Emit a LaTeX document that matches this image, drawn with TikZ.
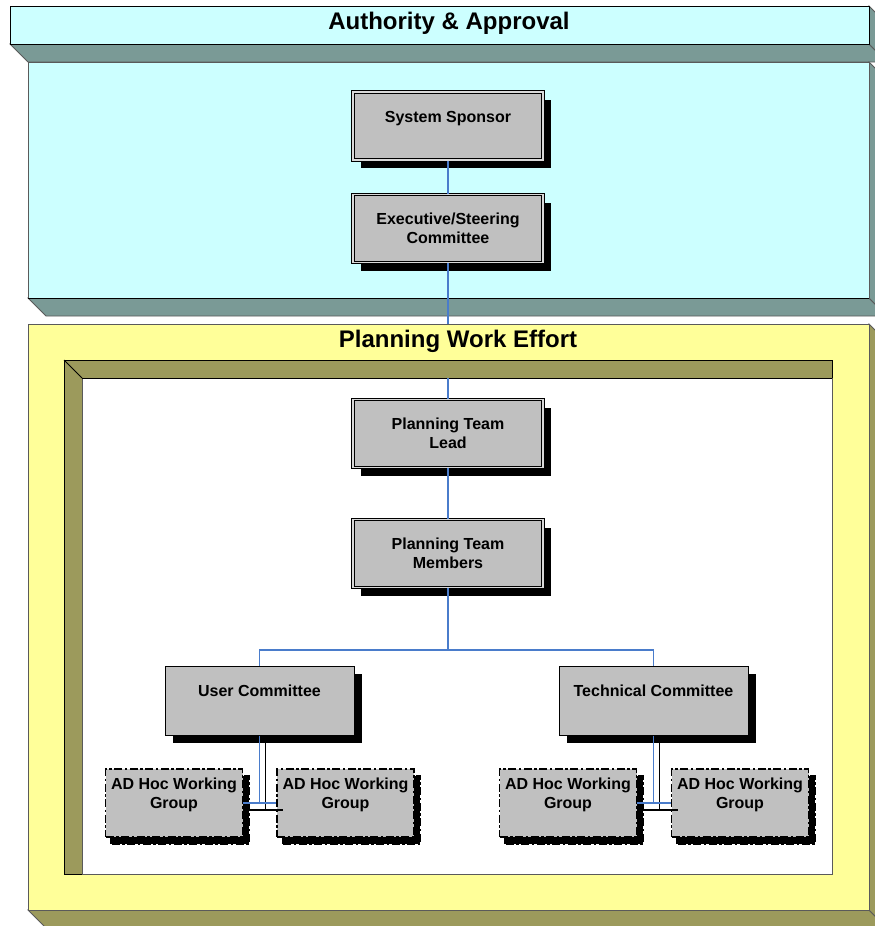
\documentclass[tikz,border=0pt]{standalone}
\usepackage{fontspec}
\setmainfont{Liberation Sans}
\usetikzlibrary{shadows}
\definecolor{aqua}{HTML}{CCFFFF}
\definecolor{aquadark}{HTML}{7A9A96}
\definecolor{paleyel}{HTML}{FFFF99}
\definecolor{olivewall}{HTML}{9C9A5C}
\definecolor{boxgray}{HTML}{C0C0C0}
\definecolor{linkblue}{HTML}{4A7CCB}
\definecolor{edgegray}{HTML}{5A5A5A}

\begin{document}
\begin{tikzpicture}[
    x=1pt, y=-1pt,
    line width=0.8pt,
    every node/.style={font=\bfseries\fontsize{16}{19}\selectfont},
    panelline/.style={draw=edgegray, line width=0.8pt},
    title/.style={font=\bfseries\fontsize{24}{28}\selectfont},
    role/.style={draw=black, double=boxgray!60!white, double distance=1.4pt,
      line width=1pt, fill=boxgray, minimum width=190pt, minimum height=68pt,
      align=center, inner sep=2pt,
      drop shadow={shadow xshift=8pt, shadow yshift=-8pt, fill=black, opacity=1}},
    committee/.style={draw=black, line width=1pt, fill=boxgray,
      minimum width=189pt, minimum height=69pt, align=center, inner sep=2pt,
      drop shadow={shadow xshift=8pt, shadow yshift=-8pt, fill=black, opacity=1}},
    adhoc/.style={draw=black, line width=1.5pt, fill=boxgray,
      dash pattern=on 8pt off 2.5pt on 2.5pt off 2.5pt,
      minimum width=137pt, minimum height=68pt, align=center, inner sep=2pt,
      drop shadow={shadow xshift=6pt, shadow yshift=-7pt, fill=black, draw=black,
        line width=2.5pt, dash pattern=on 8pt off 2.5pt on 2.5pt off 2.5pt, opacity=1}},
    link/.style={draw=linkblue, line width=1.3pt},
    linkshade/.style={draw=black, line width=1.2pt},
  ]
  \useasboundingbox (0,0) rectangle (875,926);
  \clip (0,0) rectangle (875,926);

  % ---------- Authority panel (cyan, 3D slab) ----------------------------
  % header bar: front (10,6)-(869,44), depth 18 down-right
  \filldraw[panelline, fill=aquadark] (10,44) -- (869,44) -- (887,62) -- (28,62) -- cycle;
  \filldraw[panelline, fill=aquadark] (869,6) -- (887,24) -- (887,62) -- (869,44) -- cycle;
  \filldraw[draw=black, line width=0.9pt, fill=aqua] (10,6) rectangle (869,44);
  \node[title] (authtitle) at (449,23) {Authority \& Approval};

  % body: front (28,62)-(869,298)
  \filldraw[panelline, fill=aquadark] (28,298) -- (869,298) -- (887,316) -- (46,316) -- cycle;
  \filldraw[panelline, fill=aquadark] (869,62) -- (887,80) -- (887,316) -- (869,298) -- cycle;
  \filldraw[panelline, fill=aqua] (28,62) rectangle (869,298);
  \draw[black] (28,298) -- (869,298);

  % ---------- Planning panel (yellow, 3D slab with recess) ---------------
  \filldraw[panelline, fill=olivewall] (28,910) -- (869,910) -- (887,928) -- (46,928) -- cycle;
  \filldraw[panelline, fill=olivewall] (869,324) -- (887,342) -- (887,928) -- (869,910) -- cycle;
  \filldraw[panelline, fill=paleyel] (28,324) rectangle (869,910);
  \node[title] (plantitle) at (458,341) {Planning Work Effort};

  % recess: olive walls top/left, white floor
  \filldraw[draw=black, line width=0.9pt, fill=olivewall] (64,360) rectangle (832,874);
  \filldraw[draw=edgegray, line width=0.8pt, fill=white] (82,378) rectangle (832,874);
  \draw[black] (64,360) -- (82,378);
  \draw[black] (82,378) -- (832,378);

  % ---------- Roles ------------------------------------------------------
  \node[role] (sponsor) at (448,126) {System Sponsor\\~};
  \node[role] (steering) at (448,228.5) {Executive/Steering\\Committee};
  \node[role] (lead) at (448,433.5) {Planning Team\\Lead};
  \node[role] (members) at (448,553.5) {Planning Team\\Members};

  \node[committee] (usercom) at (259.5,700.5) {User Committee\\~};
  \node[committee] (techcom) at (653.5,700.5) {Technical Committee\\~};

  % ad hoc groups under each committee
  \node[adhoc] (userah1) at (174,803) {AD Hoc Working\\Group\\~};
  \node[adhoc] (userah2) at (345.5,803) {AD Hoc Working\\Group\\~};
  \node[adhoc] (techah1) at (568,803) {AD Hoc Working\\Group\\~};
  \node[adhoc] (techah2) at (740,803) {AD Hoc Working\\Group\\~};

  % ---------- Connectors -------------------------------------------------
  \coordinate (authbase) at (448,324);
  \coordinate (recesstop) at (448,378);
  \coordinate (fork) at (448,650);

  \draw[link] (sponsor.south) -- (steering.north);
  \draw[link] (steering.south) -- (authbase);
  \draw[link] (recesstop) -- (lead.north);
  \draw[link] (lead.south) -- (members.north);
  \draw[link] (members.south) -- (fork);
  \draw[link] (usercom.north) |- (fork) -| (techcom.north);

  % committee to ad hoc groups, with black shade lines offset (6,7)
  \draw[linkshade]
    ([shift={(6,7)}]usercom.south) -- ([shift={(6,7)}]usercom.south |- userah1.east)
    ([shift={(6,7)}]userah1.east) -- ([shift={(7,7)}]userah2.west);
  \draw[linkshade]
    ([shift={(6,7)}]techcom.south) -- ([shift={(6,7)}]techcom.south |- techah1.east)
    ([shift={(6,7)}]techah1.east) -- ([shift={(7,7)}]techah2.west);
  \draw[link] (usercom.south) -- (usercom.south |- userah1.east);
  \draw[link] (userah1.east) -- (userah2.west);
  \draw[link] (techcom.south) -- (techcom.south |- techah1.east);
  \draw[link] (techah1.east) -- (techah2.west);

\end{tikzpicture}
\end{document}
